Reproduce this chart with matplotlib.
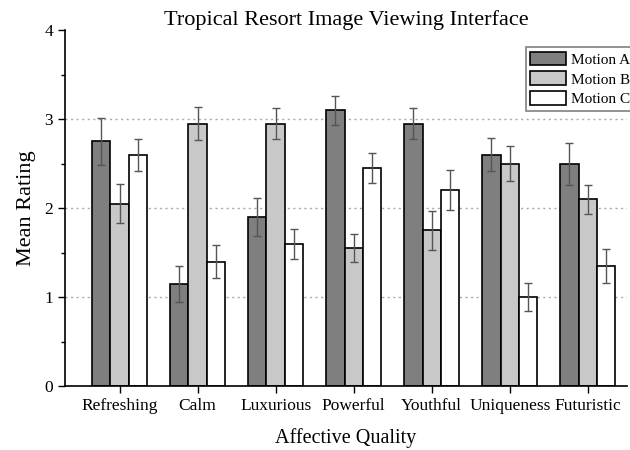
import numpy as np
import matplotlib
matplotlib.use('Agg')
import matplotlib.pyplot as plt
from matplotlib.ticker import MultipleLocator

categories = ["Refreshing", "Calm", "Luxurious", "Powerful", "Youthful", "Uniqueness", "Futuristic"]
series_names = ["Motion A", "Motion B", "Motion C"]
motion_a = [2.75, 1.15, 1.90, 3.10, 2.95, 2.60, 2.50]
motion_b = [2.05, 2.95, 2.95, 1.55, 1.75, 2.50, 2.10]
motion_c = [2.60, 1.40, 1.60, 2.45, 2.20, 1.00, 1.35]
err_a = [0.26, 0.20, 0.21, 0.165, 0.17, 0.185, 0.235]
err_b = [0.22, 0.19, 0.17, 0.155, 0.22, 0.20, 0.165]
err_c = [0.18, 0.19, 0.17, 0.17, 0.225, 0.16, 0.195]
colors = ["#7f7f7f", "#c8c8c8", "#ffffff"]

plt.rcParams['font.family'] = ['Liberation Serif', 'DejaVu Serif']

fig = plt.figure(figsize=(6.3, 4.5), dpi=100)
ax = fig.add_axes([0.103, 0.142, 0.892, 0.791])

x = np.arange(len(categories))
w = 0.235
for i, (vals, errs) in enumerate(zip([motion_a, motion_b, motion_c], [err_a, err_b, err_c])):
    ax.bar(x + (i - 1) * w, vals, w, color=colors[i], edgecolor="black", linewidth=1.2,
           label=series_names[i], zorder=2)
    ax.errorbar(x + (i - 1) * w, vals, yerr=errs, fmt="none", ecolor="#555555",
                elinewidth=1.0, capsize=3, capthick=1.0, zorder=3)

ax.set_xlim(-0.7, 6.5)
ax.set_ylim(0, 4)
ax.yaxis.set_major_locator(MultipleLocator(1))
ax.yaxis.set_minor_locator(MultipleLocator(0.5))
ax.set_xticks(x)
ax.set_xticklabels(categories, fontsize=12.5)
ax.tick_params(axis="y", labelsize=12.5, length=5, width=1, direction="out")
ax.tick_params(axis="y", which="minor", length=3, width=1)
ax.tick_params(axis="x", length=5, width=1, direction="out")
for y in [1, 2, 3]:
    ax.axhline(y, color="#aaaaaa", linestyle=(0, (1.5, 2.5)), linewidth=1, zorder=1)

ax.spines["top"].set_visible(False)
ax.spines["right"].set_visible(False)
ax.spines["left"].set_linewidth(1.2)
ax.spines["bottom"].set_linewidth(1.2)

ax.set_title("Tropical Resort Image Viewing Interface", fontsize=16, pad=3)
ax.set_xlabel("Affective Quality", fontsize=14.5, labelpad=10)
ax.set_ylabel("Mean Rating", fontsize=16, labelpad=6)

leg = ax.legend(loc="upper left", bbox_to_anchor=(0.82, 0.952), fontsize=11,
                fancybox=False, edgecolor="#808080", framealpha=1, borderpad=0.3,
                handlelength=2.35, handleheight=1.0, labelspacing=0.3, handletextpad=0.3,
                borderaxespad=0)
leg.get_frame().set_linewidth(1.2)

fig.savefig("out.png", dpi=100)
